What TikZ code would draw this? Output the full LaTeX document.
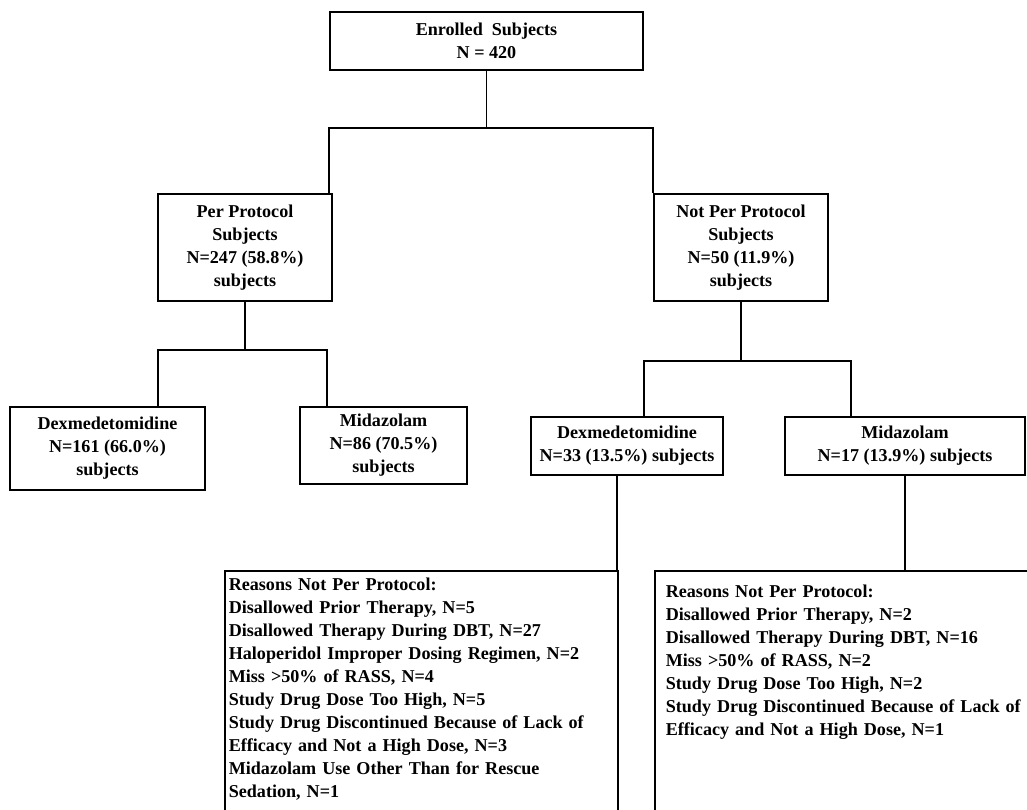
\documentclass[tikz,border=0pt]{standalone}
\usepackage{fontspec}
\setmainfont{Liberation Serif}
\usepackage{tikz}
\usetikzlibrary{positioning,calc}

\newcommand\chartfont{\fontsize{18.1}{23}\selectfont\bfseries}

\tikzset{
  flowbox/.style={draw, line width=1.6pt, align=center, inner sep=0pt, font=\chartfont},
  reasonbox/.style={draw, line width=1.6pt, align=left, anchor=north west, font=\chartfont},
  link/.style={line width=1.6pt}
}

\begin{document}
\begin{tikzpicture}[x=1pt, y=-1pt]
  \useasboundingbox (0,0) rectangle (1027,810);
  \clip (0,0) rectangle (1027,810);

  % top level
  \node[flowbox, minimum width=313pt, minimum height=58pt] (enrolled) at (486.5,41)
    {Enrolled\ \ Subjects\\N = 420};

  % protocol split
  \node[flowbox, minimum width=174pt, minimum height=107pt] (perprot) at (245,247.5)
    {Per Protocol\\Subjects\\N=247 (58.8\%)\\subjects};
  \node[flowbox, minimum width=174pt, minimum height=107pt] (notperprot) at (741,247.5)
    {Not Per Protocol\\Subjects\\N=50 (11.9\%)\\subjects};

  % treatment arms
  \node[flowbox, minimum width=195pt, minimum height=83pt] (dexpp) at (107.5,448.5)
    {Dexmedetomidine\\N=161 (66.0\%)\\subjects};
  \node[flowbox, minimum width=167pt, minimum height=77pt] (midpp) at (383.5,445.5)
    {Midazolam\\N=86 (70.5\%)\\subjects};
  \node[flowbox, minimum width=192pt, minimum height=58pt] (dexnpp) at (627,446)
    {Dexmedetomidine\\N=33 (13.5\%) subjects};
  \node[flowbox, minimum width=240pt, minimum height=58pt] (midnpp) at (905,446)
    {Midazolam\\N=17 (13.9\%) subjects};

  % reasons (run past the lower edge)
  \node[reasonbox, text width=385pt, inner xsep=4pt, inner ysep=7pt,
        text depth=260pt] (reasonsdex) at (224,570)
    {Reasons Not Per Protocol:\\
     Disallowed Prior Therapy, N=5\\
     Disallowed Therapy During DBT, N=27\\
     Haloperidol Improper Dosing Regimen, N=2\\
     Miss >50\% of RASS, N=4\\
     Study Drug Dose Too High, N=5\\
     Study Drug Discontinued Because of Lack of\\
     Efficacy and Not a High Dose, N=3\\
     Midazolam Use Other Than for Rescue\\
     Sedation, N=1};
  \node[reasonbox, text width=398pt, inner xsep=11pt, inner ysep=14pt,
        text depth=260pt] (reasonsmid) at (654,570)
    {Reasons Not Per Protocol:\\
     Disallowed Prior Therapy, N=2\\
     Disallowed Therapy During DBT, N=16\\
     Miss >50\% of RASS, N=2\\
     Study Drug Dose Too High, N=2\\
     Study Drug Discontinued Because of Lack of\\
     Efficacy and Not a High Dose, N=1};

  % connectors
  \draw[link] (enrolled.south) -- ++(0,57) coordinate (topjoin);
  \draw[link] ([xshift=-4pt]perprot.north east) |- (topjoin) -| (notperprot.north west);

  \draw[link] (perprot.south) -- ++(0,48) coordinate (ppjoin);
  \draw[link] ([xshift=50.5pt]dexpp.north) |- (ppjoin) -| ([xshift=-56.5pt]midpp.north);

  \draw[link] (notperprot.south) -- ++(0,59) coordinate (npjoin);
  \draw[link] ([xshift=17pt]dexnpp.north) |- (npjoin) -| ([xshift=-54pt]midnpp.north);

  \draw[link] ([xshift=-10pt]dexnpp.south) -- ([xshift=-10pt]dexnpp.south |- reasonsdex.north);
  \draw[link] (midnpp.south) -- (midnpp.south |- reasonsmid.north);
\end{tikzpicture}
\end{document}
